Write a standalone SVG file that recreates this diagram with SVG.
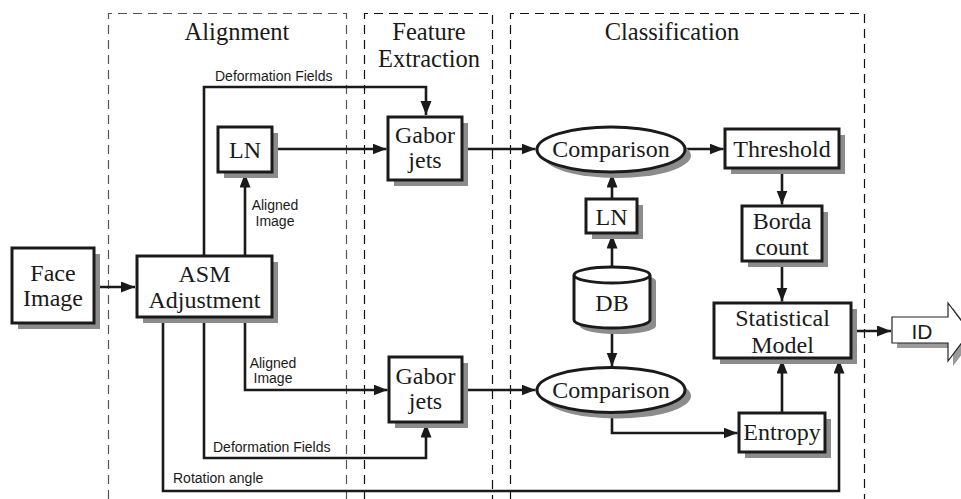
<svg xmlns="http://www.w3.org/2000/svg" width="961" height="499" viewBox="0 0 961 499">
<style>
.bg{fill:#fff}
.dash{fill:none;stroke:#111;stroke-width:1.2;stroke-dasharray:9 6}
.box{fill:#fff;stroke:#1a1a1a;stroke-width:3}
.sh{fill:#8c8c8c;stroke:none}
.t{font-family:"Liberation Serif","Times New Roman",serif;font-size:24px;fill:#1a1a1a;text-anchor:middle}
.title{font-family:"Liberation Serif","Times New Roman",serif;font-size:24.5px;fill:#1a1a1a;text-anchor:middle}
.lbl{font-family:"Liberation Sans",Arial,sans-serif;font-size:14px;fill:#1a1a1a}
.c{fill:none;stroke:#1a1a1a;stroke-width:2.6;marker-end:url(#ah)}
</style>
<defs>
<marker id="ah" markerUnits="userSpaceOnUse" markerWidth="15" markerHeight="12" refX="14" refY="5.5" orient="auto">
<path d="M0,0 L14,5.5 L0,11 z" fill="#1a1a1a"/>
</marker>
</defs>
<rect class="bg" x="0" y="0" width="961" height="499"/>

<g id="regions">
<path class="dash" d="M108.5,499 V13.5 H346.5 V499" style="stroke:#555"/>
<path class="dash" d="M364.5,499 V13.5 H492.5 V499"/>
<path class="dash" d="M510.5,499 V13.5 H864.5 V499"/>
<text class="title" x="237" y="40">Alignment</text>
<text class="title" x="429" y="40">Feature</text>
<text class="title" x="429" y="67">Extraction</text>
<text class="title" x="672" y="40">Classification</text>
</g>

<g id="connectors">
<path class="c" d="M94,287 H135"/>
<path class="c" d="M204,256 V87 H426 V115"/>
<path class="c" d="M245,256 V173.5"/>
<path class="c" d="M272,149 H386.5"/>
<path class="c" d="M462,149 H535.5"/>
<path class="c" d="M685,149 H723.5"/>
<path class="c" d="M782,168 V204.5"/>
<path class="c" d="M782,261 V301.5"/>
<path class="c" d="M612,199 V173.5"/>
<path class="c" d="M612,267 V234.5"/>
<path class="c" d="M612,328 V366.5"/>
<path class="c" d="M245,317 V390 H387.5"/>
<path class="c" d="M204,317 V458 H426 V423.5"/>
<path class="c" d="M163,317 V491 H839 V359.5"/>
<path class="c" d="M462,390 H535.5"/>
<path class="c" d="M612,412 V433 H737.5"/>
<path class="c" d="M782,413 V359.5"/>
<path class="c" d="M851,331 H891"/>
<text class="lbl" x="215" y="81">Deformation Fields</text>
<text class="lbl" x="275" y="210" text-anchor="middle">Aligned</text>
<text class="lbl" x="275" y="226" text-anchor="middle">Image</text>
<text class="lbl" x="273" y="368" text-anchor="middle">Aligned</text>
<text class="lbl" x="273" y="383" text-anchor="middle">Image</text>
<text class="lbl" x="213" y="452">Deformation Fields</text>
<text class="lbl" x="173" y="483">Rotation angle</text>
</g>

<g id="face-image">
<rect class="sh" x="18" y="254" width="82" height="75"/>
<rect class="box" x="12" y="248" width="82" height="75"/>
<text class="t" x="53" y="281">Face</text>
<text class="t" x="53" y="306">Image</text>
</g>

<g id="asm">
<rect class="sh" x="143" y="262" width="135" height="61"/>
<rect class="box" x="137" y="256" width="135" height="61"/>
<text class="t" x="204.5" y="282">ASM</text>
<text class="t" x="204.5" y="308">Adjustment</text>
</g>

<g id="ln-left">
<rect class="sh" x="224" y="133" width="54" height="45"/>
<rect class="box" x="218" y="127" width="54" height="45"/>
<text class="t" x="245" y="158">LN</text>
</g>

<g id="gabor-top">
<rect class="sh" x="394" y="123" width="74" height="63"/>
<rect class="box" x="388" y="117" width="74" height="63"/>
<text class="t" x="425" y="143">Gabor</text>
<text class="t" x="425" y="168">jets</text>
</g>

<g id="gabor-bottom">
<rect class="sh" x="395" y="363" width="73" height="65"/>
<rect class="box" x="389" y="357" width="73" height="65"/>
<text class="t" x="425.5" y="384">Gabor</text>
<text class="t" x="425.5" y="409">jets</text>
</g>

<g id="comparison-top">
<ellipse class="sh" cx="617" cy="155.5" rx="74" ry="22.5"/>
<ellipse class="box" cx="611" cy="149.5" rx="74" ry="22.5"/>
<text class="t" x="611" y="157">Comparison</text>
</g>

<g id="comparison-bottom">
<ellipse class="sh" cx="617" cy="396" rx="74" ry="22.5"/>
<ellipse class="box" cx="611" cy="390" rx="74" ry="22.5"/>
<text class="t" x="611" y="398">Comparison</text>
</g>

<g id="ln-mid">
<rect class="sh" x="592" y="205" width="51" height="34"/>
<rect class="box" x="586" y="199" width="51" height="34"/>
<text class="t" x="611.5" y="225">LN</text>
</g>

<g id="db">
<path class="sh" d="M580,281 v45 a38,8 0 0 0 76,0 v-45 a38,8 0 0 0 -76,0 z"/>
<path class="box" d="M574,275 v45 a38,8 0 0 0 76,0 v-45 a38,8 0 0 0 -76,0 a38,8 0 0 0 76,0"/>
<text class="t" x="612" y="311">DB</text>
</g>

<g id="threshold">
<rect class="sh" x="731" y="135" width="114" height="39"/>
<rect class="box" x="725" y="129" width="114" height="39"/>
<text class="t" x="782" y="157">Threshold</text>
</g>

<g id="borda">
<rect class="sh" x="748" y="212" width="80" height="55"/>
<rect class="box" x="742" y="206" width="80" height="55"/>
<text class="t" x="782" y="229">Borda</text>
<text class="t" x="782" y="255">count</text>
</g>

<g id="statistical-model">
<rect class="sh" x="720" y="309" width="137" height="55"/>
<rect class="box" x="714" y="303" width="137" height="55"/>
<text class="t" x="782.5" y="326">Statistical</text>
<text class="t" x="782.5" y="353">Model</text>
</g>

<g id="entropy">
<rect class="sh" x="745" y="419" width="86" height="39"/>
<rect class="box" x="739" y="413" width="86" height="39"/>
<text class="t" x="782" y="440">Entropy</text>
</g>

<g id="id-output">
<path d="M897,322 H953 V308 L975,337 L953,366 V348 H897 z" fill="#9a9a9a"/>
<path d="M892,317 H948 V303 L970,332 L948,361 V343 H892 z" fill="#fff" stroke="#222" stroke-width="1.2"/>
<text x="922" y="339" font-family="'Liberation Sans',Arial,sans-serif" font-size="21" fill="#1a1a1a" text-anchor="middle">ID</text>
</g>
</svg>
